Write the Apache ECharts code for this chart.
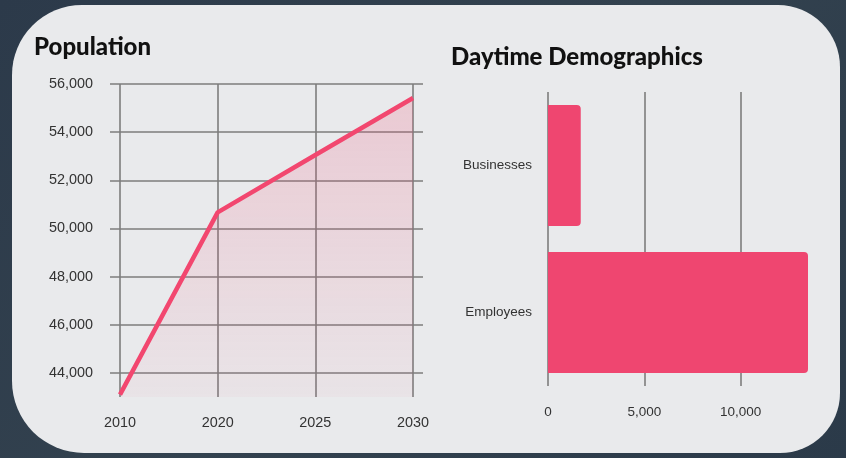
<!DOCTYPE html>
<html>
<head>
<meta charset="utf-8">
<script src="https://cdn.jsdelivr.net/npm/echarts@6/dist/echarts.min.js"></script>
<style>
  html, body { margin:0; padding:0; width:846px; height:458px; overflow:hidden;
    background: linear-gradient(135deg, #2c3a4a 0%, #33424f 50%, #2b3a49 100%); }
  #card { position:absolute; left:12px; top:5px; width:828px; height:448px;
    background:#e9eaec; border-radius:70px 62px 60px 72px; }
  #chart { position:absolute; left:0; top:0; width:846px; height:458px; }
</style>
</head>
<body>
<div id="card"></div>
<div id="chart"></div>
<script>
// ---- data ----
const popYears = ['2010', '2020', '2025', '2030'];
const popValues = [43100, 50670, 53050, 55420];
const popTitle = 'Population';

const demoCategories = ['Businesses', 'Employees'];
const demoValues = [1700, 13500];
const demoTitle = 'Daytime Demographics';

const textColor = '#333';
const gridColor = '#7d7d7d';
const pink = '#f2476f';

const chart = echarts.init(document.getElementById('chart'), null, { renderer: 'canvas' });

const fmt = v => Number(v).toLocaleString('en-US');
const titleStyle = { fontFamily: 'Lato, "Open Sans", sans-serif', fontWeight: 900, fontSize: 24, color: '#111' };

chart.setOption({
  backgroundColor: 'transparent',
  animation: false,
  title: [
    { text: popTitle, left: 29, top: 30, padding: 5, textStyle: titleStyle },
    { text: demoTitle, left: 446, top: 40, padding: 5, textStyle: titleStyle }
  ],
  grid: [
    { left: 110, right: 846 - 423, top: 84, bottom: 458 - 397 },   // horizontal lines
    { left: 120, right: 846 - 413, top: 84, bottom: 458 - 397 },   // line series
    { left: 548, right: 846 - 808, top: 92, bottom: 458 - 386 }    // bars
  ],
  xAxis: [
    { gridIndex: 0, type: 'value', show: false, min: 0, max: 1 },
    { gridIndex: 1, type: 'category', data: popYears, boundaryGap: false,
      axisLine: { show: false }, axisTick: { show: false },
      axisLabel: { margin: 19, fontSize: 14.4, color: textColor, fontFamily: '"Liberation Sans", Arial, sans-serif' },
      splitLine: { show: true, lineStyle: { color: gridColor, width: 1.6 } } },
    { gridIndex: 2, type: 'value', min: 0, max: 13500, interval: 5000,
      axisLine: { show: false }, axisTick: { show: false },
      axisLabel: { margin: 19, fontSize: 13.5, color: textColor, showMaxLabel: false,
        fontFamily: '"Liberation Sans", Arial, sans-serif', formatter: fmt },
      splitLine: { show: true, lineStyle: { color: [gridColor, gridColor, gridColor, 'transparent'], width: 1.6 } } }
  ],
  yAxis: [
    { gridIndex: 0, type: 'value', min: 43000, max: 56000, interval: 1000,
      axisLine: { show: false }, axisTick: { show: false },
      axisLabel: { margin: 17, fontSize: 14.4, color: textColor, fontFamily: '"Liberation Sans", Arial, sans-serif',
        formatter: v => (v % 2000 === 0 ? fmt(v) : '') },
      splitLine: { show: true, lineStyle: { color: ['transparent', gridColor], width: 1.6 } } },
    { gridIndex: 1, type: 'value', min: 43000, max: 56000, show: false },
    { gridIndex: 2, type: 'category', data: demoCategories, inverse: true,
      axisLine: { show: false }, axisTick: { show: false },
      axisLabel: { margin: 16, fontSize: 13.5, color: textColor, fontFamily: '"Liberation Sans", Arial, sans-serif' },
      splitLine: { show: false } }
  ],
  series: [
    { type: 'line', xAxisIndex: 1, yAxisIndex: 1, data: popValues,
      symbol: 'none', lineStyle: { color: pink, width: 4.5 },
      areaStyle: { color: new echarts.graphic.LinearGradient(0, 0, 0, 1, [
        { offset: 0, color: 'rgba(240,70,110,0.28)' },
        { offset: 1, color: 'rgba(240,70,110,0.05)' }
      ]) } },
    { type: 'bar', xAxisIndex: 2, yAxisIndex: 2, data: demoValues, barWidth: 121,
      itemStyle: { color: '#ef4670', borderRadius: [0, 4, 4, 0] } }
  ]
});
</script>
</body>
</html>
